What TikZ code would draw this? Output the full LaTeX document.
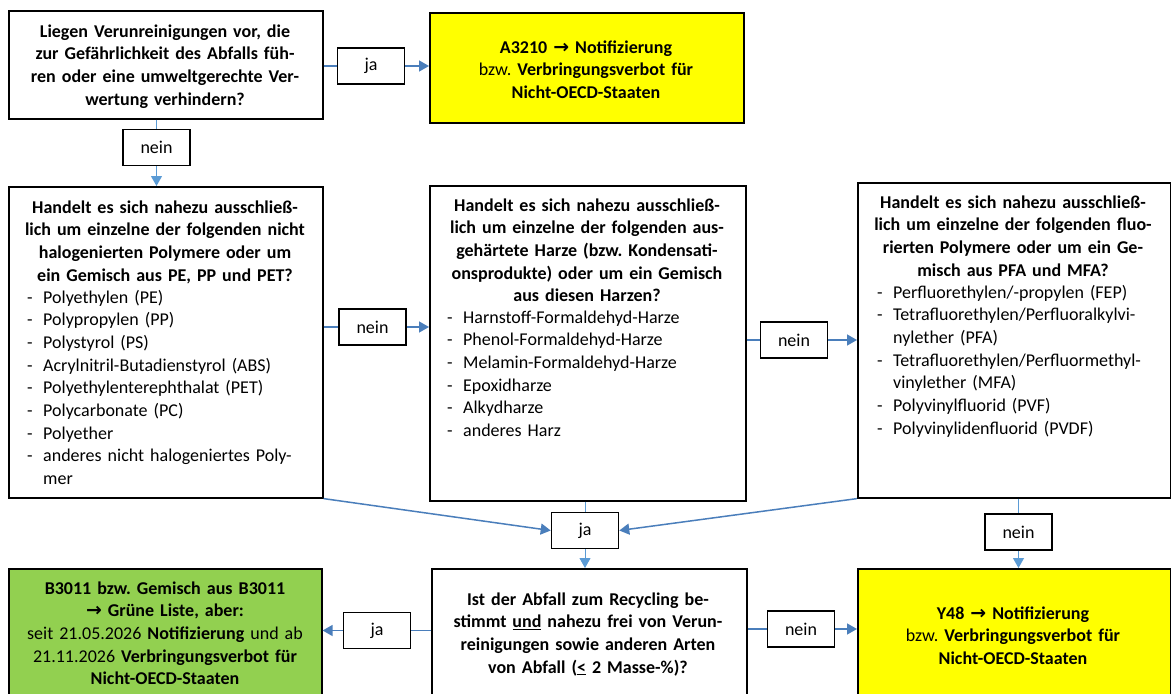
\documentclass[tikz,border=0pt]{standalone}
\usepackage{fontspec}
\usepackage{graphicx}
\setmainfont{Carlito}
\newfontfamily\arrfont{DejaVu Sans}
\usetikzlibrary{arrows.meta}
\definecolor{conn}{RGB}{74,126,187}
\definecolor{connlight}{RGB}{91,155,213}
\definecolor{ylw}{RGB}{255,255,0}
\definecolor{grn}{RGB}{146,208,80}
\newcommand{\fs}{\fontsize{18}{22.7}\selectfont}
\newcommand{\rarr}{{\arrfont\bfseries\scalebox{1.05}{→}}}
\newcommand{\itm}[1]{\makebox[16pt][l]{-}#1}
\newcommand{\cnt}[1]{\hspace*{16pt}#1}
\begin{document}
\begin{tikzpicture}[x=1pt,y=-1pt,
  font=\fs,
  box/.style={draw, line width=1.6pt, inner sep=0, anchor=north west},
  lbl/.style={draw, line width=1.6pt, inner sep=0, minimum width=67pt, minimum height=36pt, fill=white},
  ctext/.style={inner sep=0, text width=#1, align=center, anchor=base},
  ltext/.style={inner sep=0, text width=#1, align=left, anchor=base west},
  arr/.style={draw=conn, line width=1.5pt, -{Triangle[length=10pt,width=11pt]}},
  ln/.style={draw=conn, line width=1.5pt},
  varr/.style={draw=connlight, line width=1pt, -{Triangle[length=10pt,width=11pt]}},
  vln/.style={draw=connlight, line width=1pt}]
\clip (0,0) rectangle (1171,694);
\fill[white] (0,0) rectangle (1171,694);

% boxes
\node[box, minimum width=314pt, minimum height=108pt] (q1) at (8,10) {};
\node[box, fill=ylw, minimum width=314pt, minimum height=110pt] (a1) at (429,12) {};
\node[box, minimum width=314pt, minimum height=311pt] (b2) at (8,186) {};
\node[box, minimum width=316pt, minimum height=315pt] (b3) at (429,185) {};
\node[box, minimum width=313pt, minimum height=315pt] (b4) at (857,182) {};
\node[box, fill=grn, minimum width=313pt, minimum height=140pt] (g) at (8,568) {};
\node[box, minimum width=315pt, minimum height=140pt] (m) at (431,568) {};
\node[box, fill=ylw, minimum width=313pt, minimum height=140pt] (y48) at (857,568) {};

% texts
\node[ctext=310pt, font=\fs\bfseries] (tq1) at (165,37) {Liegen Verunreinigungen vor, die\\ zur Gefährlichkeit des Abfalls füh-\\ ren oder eine umweltgerechte Ver-\\ wertung verhindern?};
\node[ctext=310pt] (ta1) at (586,53) {\textbf{A3210 \rarr{} Notifizierung}\hspace*{4pt}\\ bzw.\ \textbf{Verbringungsverbot für}\\ \textbf{Nicht-OECD-Staaten}};
\node[ctext=310pt, font=\fs\bfseries] (tb2) at (165,213) {Handelt es sich nahezu ausschließ-\\ lich um einzelne der folgenden nicht\\ halogenierten Polymere oder um\\ ein Gemisch aus PE, PP und PET?};
\node[ltext=292pt] (lb2) at (27,303) {\itm{Polyethylen (PE)}\\ \itm{Polypropylen (PP)}\\ \itm{Polystyrol (PS)}\\ \itm{Acrylnitril-Butadienstyrol (ABS)}\\ \itm{Polyethylenterephthalat (PET)}\\ \itm{Polycarbonate (PC)}\\ \itm{Polyether}\\ \itm{anderes nicht halogeniertes Poly-}\\ \cnt{mer}};
\node[ctext=312pt, font=\fs\bfseries] (tb3) at (587,211) {Handelt es sich nahezu ausschließ-\\ lich um einzelne der folgenden aus-\\ gehärtete Harze (bzw.\ Kondensati-\\ onsprodukte) oder um ein Gemisch\\ aus diesen Harzen?};
\node[ltext=292pt] (lb3) at (447,323) {\itm{Harnstoff-Formaldehyd-Harze}\\ \itm{Phenol-Formaldehyd-Harze}\\ \itm{Melamin-Formaldehyd-Harze}\\ \itm{Epoxidharze}\\ \itm{Alkydharze}\\ \itm{anderes Harz}};
\node[ctext=310pt, font=\fs\bfseries] (tb4) at (1013,208) {Handelt es sich nahezu ausschließ-\\ lich um einzelne der folgenden fluo-\\ rierten Polymere oder um ein Ge-\\ misch aus PFA und MFA?};
\node[ltext=292pt] (lb4) at (877,298) {\itm{Perfluorethylen/-propylen (FEP)}\\ \itm{Tetrafluorethylen/Perfluoralkylvi-}\\ \cnt{nylether (PFA)}\\ \itm{Tetrafluorethylen/Perfluormethyl-}\\ \cnt{vinylether (MFA)}\\ \itm{Polyvinylfluorid (PVF)}\\ \itm{Polyvinylidenfluorid (PVDF)}};
\node[ctext=310pt] (tg) at (165,594) {\textbf{B3011 bzw.\ Gemisch aus B3011}\\ \textbf{\rarr{} Grüne Liste, aber:}\\ seit 21.05.2026 \textbf{Notifizierung} und ab\\ 21.11.2026 \textbf{Verbringungsverbot für}\\ \textbf{Nicht-OECD-Staaten}};
\node[ctext=312pt, font=\fs\bfseries] (tm) at (588,605) {Ist der Abfall zum Recycling be-\\ stimmt \underline{und} nahezu frei von Verun-\\ reinigungen sowie anderen Arten\\ von Abfall (\underline{<} 2 Masse-\%)?};
\node[ctext=310pt] (ty48) at (1013,619) {\textbf{Y48 \rarr{} Notifizierung}\hspace*{4pt}\\ bzw.\ \textbf{Verbringungsverbot für}\\ \textbf{Nicht-OECD-Staaten}};

% label boxes
\node[lbl] (ja1) at (371,66) {ja};
\node[lbl] (n1) at (156.5,147.5) {nein};
\node[lbl] (n2) at (372.5,327) {nein};
\node[lbl] (n3) at (794,340) {nein};
\node[lbl] (ja2) at (585,530.5) {ja};
\node[lbl] (n4) at (1018.5,532) {nein};
\node[lbl] (ja3) at (377,630.5) {ja};
\node[lbl] (n5) at (801,629) {nein};

% connectors
\draw[ln] (q1.east |- ja1.west) -- (ja1.west);
\draw[arr] (ja1.east) -- (ja1.east -| a1.west);
\draw[vln] (n1.north |- q1.south) -- (n1.north);
\draw[varr] (n1.south) -- (n1.south |- b2.north);
\draw[ln] (b2.east |- n2.west) -- (n2.west);
\draw[arr] (n2.east) -- (n2.east -| b3.west);
\draw[ln] (b3.east |- n3.west) -- (n3.west);
\draw[arr] (n3.east) -- (n3.east -| b4.west);
\draw[arr] (b2.south east) -- (ja2.west);
\draw[arr] (b4.south west) -- (ja2.east);
\draw[vln] (ja2.north |- b3.south) -- (ja2.north);
\draw[varr] (ja2.south) -- (ja2.south |- m.north);
\draw[vln] (n4.north |- b4.south) -- (n4.north);
\draw[varr] (n4.south) -- (n4.south |- y48.north);
\draw[ln] (m.west |- ja3.east) -- (ja3.east);
\draw[arr] (ja3.west) -- (ja3.west -| g.east);
\draw[ln] (m.east |- n5.west) -- (n5.west);
\draw[arr] (n5.east) -- (n5.east -| y48.west);
\end{tikzpicture}
\end{document}
